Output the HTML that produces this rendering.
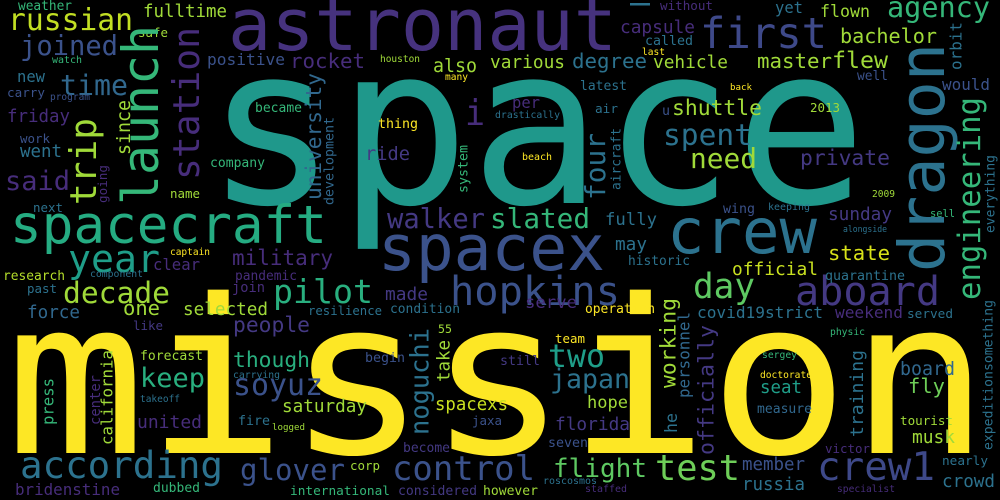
<!DOCTYPE html>
<html><head><meta charset="utf-8"><style>
html,body{margin:0;padding:0;background:#000;}
svg{display:block;}
text{font-family:"DejaVu Sans Mono","Liberation Mono",monospace;}
</style></head><body>
<svg id="cloud" width="1000" height="500" viewBox="0 0 1000 500" xmlns="http://www.w3.org/2000/svg">
<rect width="1000" height="500" fill="#000"/>
</svg>
<script>
const hWords=["space","mission","astronaut","–","crew","spacex","first","spacecraft","russian","joined","time","said","year","decade","pilot","hopkins","day","aboard","agency","flown","yet","without","capsule","bachelor","called","last","vehicle","master","flew","well","would","back","u","shuttle","2013","spent","need","private","2009","wing","keeping","sell","sunday","alongside","fully","may","state","historic","official","quarantine","positive","rocket","also","various","degree","houston","many","latest","i","per","air","drastically","thing","became","beach","ride","company","walker","slated","weather","fulltime","safe","watch","new","carry","program","friday","work","went","name","next","captain","military","research","clear","component","pandemic","past","join","one","selected","force","people","like","though","forecast","keep","soyuz","carrying","takeoff","saturday","united","fire","logged","according","glover","dubbed","bridenstine","made","condition","resilience","55","begin","still","spacexs","jaxa","become","control","corp","international","considered","however","serve","operation","covid19","strict","weekend","served","team","physic","two","sergey","japan","board","doctorate","fly","seat","hope","measure","tourist","florida","seven","musk","victor","flight","test","crew1","member","nearly","crowd","russia","roscosmos","staffed","specialist"];
const hX=[205,5,228,630,667,378,700,10,8,20,60,5,68,63,273,450,693,795,887,820,775,660,620,840,645,642,653,757,832,857,942,730,662,672,810,663,690,800,872,723,768,930,828,843,605,615,828,628,732,825,207,290,433,490,572,380,445,580,465,512,595,495,378,255,522,365,210,387,490,18,143,138,52,17,7,50,7,20,20,170,33,170,232,3,153,90,235,27,232,123,183,27,233,133,233,140,140,233,233,140,282,137,238,272,20,240,153,15,385,390,308,438,365,500,435,472,403,392,350,290,398,483,525,585,697,765,835,907,555,830,548,762,550,900,760,908,760,587,757,900,555,548,912,825,553,655,817,742,942,942,742,543,585,837];
const hY=[203,453,50,14,253,270,48,243,30,55,95,190,272,303,303,305,298,305,17,17,13,10,33,43,45,55,68,68,68,80,90,90,115,115,112,145,168,165,197,213,210,217,220,232,225,250,260,265,275,280,65,68,72,68,68,62,80,90,125,108,113,118,128,112,160,160,167,228,228,10,17,37,63,82,97,100,122,143,157,198,212,255,265,280,270,277,280,293,292,315,315,318,332,330,367,360,387,395,378,402,412,428,425,430,478,480,492,495,300,313,315,333,362,365,410,425,452,480,470,495,495,495,308,313,318,318,318,318,343,335,367,358,388,375,378,393,393,408,413,425,430,447,443,453,477,480,480,470,465,487,490,484,492,492];
const hW=[662,985,389,20,150,227,127,317,125,98,68,65,92,107,100,170,62,145,103,50,28,53,75,97,48,23,75,75,56,31,48,22,8,90,30,89,67,90,23,32,42,25,64,44,52,32,62,62,86,80,78,75,44,75,75,40,23,47,20,28,23,65,40,47,30,45,55,98,100,54,84,30,30,28,38,40,63,30,42,30,30,40,101,62,47,53,62,30,33,37,85,53,77,30,77,63,65,90,47,40,85,65,32,33,203,105,47,105,43,70,74,14,40,40,73,30,47,143,30,100,79,55,52,70,68,58,68,46,30,35,57,35,80,55,52,37,42,41,55,53,75,40,43,45,94,85,118,63,46,53,63,54,42,58];
const hC=["#1f988b","#fde725","#46327e","#2c728e","#2c728e","#3b528b","#3e4989","#25ac82","#c2df23","#3b528b","#31688e","#472d7b","#1f9e89","#a0da39","#29af7f","#3b528b","#5ec962","#443983","#35b779","#a0da39","#2c728e","#472d7b","#472d7b","#a0da39","#2c728e","#fde725","#a0da39","#a0da39","#a0da39","#3b528b","#3b528b","#fde725","#3b528b","#a0da39","#a0da39","#2c728e","#a0da39","#443983","#a0da39","#3b528b","#2c728e","#35b779","#443983","#2c728e","#2c728e","#2c728e","#d8e219","#2c728e","#c8e020","#2c728e","#3b528b","#472d7b","#a0da39","#a0da39","#2c728e","#a0da39","#fde725","#2c728e","#472d7b","#472d7b","#2c728e","#2c728e","#fde725","#35b779","#fde725","#443983","#35b779","#443983","#35b779","#35b779","#a0da39","#a0da39","#35b779","#2c728e","#3b528b","#3b528b","#472d7b","#3b528b","#2c728e","#a0da39","#2c728e","#fde725","#472d7b","#b5de2b","#472d7b","#2c728e","#472d7b","#2c728e","#472d7b","#a0da39","#a0da39","#31688e","#443983","#443983","#29af7f","#a0da39","#29af7f","#3b528b","#2c728e","#2c728e","#a0da39","#472d7b","#2c728e","#a0da39","#2c728e","#3b528b","#35b779","#472d7b","#443983","#2c728e","#2c728e","#a0da39","#3b528b","#443983","#c8e020","#3b528b","#443983","#3b528b","#a0da39","#35b779","#443983","#a0da39","#472d7b","#fde725","#2c728e","#2c728e","#472d7b","#2c728e","#fde725","#35b779","#1f9e89","#35b779","#2c728e","#31688e","#fde725","#6ece58","#1f9e89","#a0da39","#31688e","#a0da39","#443983","#3b528b","#a0da39","#472d7b","#5ec962","#6ece58","#3e4989","#3b528b","#2c728e","#2c728e","#2c728e","#2c728e","#472d7b","#472d7b"];

const vWords=["dragon","launch","station","trip","engineering","orbit","university","development","noguchi","working","personnel","officially","training","four","aircraft","system","he","take","expeditionsomething","everything","press","center","california","since","going"];
const vLeft=[898,122,173,70,958,950,306,324,410,660,678,698,850,585,611,458,665,437,983,985,42,90,101,117,98];
const vTop=[43,25,27,118,97,22,73,117,328,298,312,325,350,133,128,145,413,340,300,155,378,375,350,100,165];
const vBottom=[272,205,180,205,300,70,200,205,435,388,398,455,437,200,190,193,433,382,450,233,425,425,445,155,203];
const vC=["#2c728e","#35b779","#472d7b","#a0da39","#35b779","#2c728e","#31688e","#31688e","#2c728e","#a0da39","#31688e","#443983","#2c728e","#2c728e","#2c728e","#35b779","#2c728e","#a0da39","#2c728e","#2c728e","#35b779","#472d7b","#a0da39","#a0da39","#472d7b"];

const svg=document.getElementById('cloud');
const NS="http://www.w3.org/2000/svg";
function sizeFor(word,len){return Math.max(9,len/(word.length*0.6));}
for(let i=0;i<hWords.length;i++){
  const t=document.createElementNS(NS,'text');
  let fs=sizeFor(hWords[i],hW[i]);
  if(hWords[i]==='i')fs=36;
  if(hWords[i]==='–')fs=36;
  if(hWords[i]==='mission')fs=215;
  t.setAttribute('x',hX[i]);t.setAttribute('y',hY[i]);
  t.setAttribute('font-size',fs.toFixed(1));t.setAttribute('fill',hC[i]);
  t.setAttribute('textLength',hW[i]);t.setAttribute('lengthAdjust','spacingAndGlyphs');
  t.textContent=hWords[i];
  
  
  svg.appendChild(t);
}
for(let i=0;i<vWords.length;i++){
  const len=vBottom[i]-vTop[i];
  const fs=sizeFor(vWords[i],len);
  const base=vLeft[i]+0.72*fs;
  const t=document.createElementNS(NS,'text');
  t.setAttribute('transform','translate('+base.toFixed(1)+','+vBottom[i]+') rotate(-90)');
  t.setAttribute('x',0);t.setAttribute('y',0);
  t.setAttribute('font-size',fs.toFixed(1));t.setAttribute('fill',vC[i]);
  t.setAttribute('textLength',len);t.setAttribute('lengthAdjust','spacingAndGlyphs');
  t.textContent=vWords[i];
  
  
  svg.appendChild(t);
}
</script>
</body></html>
